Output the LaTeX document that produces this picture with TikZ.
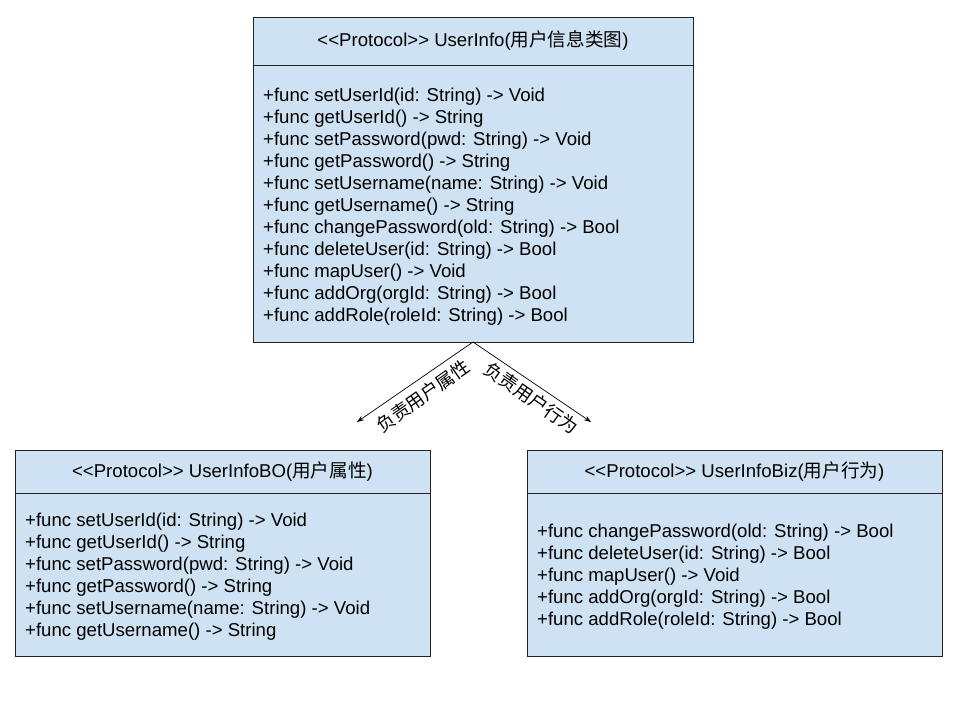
\documentclass[tikz,border=0pt]{standalone}
\usepackage{fontspec}
\setmainfont{Liberation Sans}
\newfontfamily\cjk{Noto Sans CJK SC}
\usetikzlibrary{arrows.meta}
\definecolor{boxfill}{HTML}{CFE2F3}
\definecolor{boxline}{HTML}{222222}
\begin{document}
\begin{tikzpicture}[x=1pt,y=-1pt,
  classbox/.style={draw=boxline,fill=boxfill,line width=0.8pt},
  divider/.style={draw=boxline,line width=0.8pt},
  member/.style={anchor=base west,inner sep=0pt,font=\fontsize{18.6}{22}\selectfont},
  title/.style={inner sep=0pt,font=\fontsize{18.6}{22}\selectfont},
  conn/.style={draw=black,line width=0.7pt,-{Stealth[length=7pt,width=5pt]}},
  lbl/.style={inner sep=0pt,font=\fontsize{18.3}{20}\selectfont\cjk}]
\useasboundingbox (0,0) rectangle (960,711);
\fill[white] (0,0) rectangle (960,711);
% top box
\draw[classbox] (253,17) rectangle (693,342);
\draw[divider] (253,65) -- (693,65);
\node[title] (ttop) at (473,41) {<{}<Protocol>{}> UserInfo({\cjk 用户信息类图})};
\foreach \t [count=\i] in {
  {+func setUserId(id: String) -> Void},
  {+func getUserId() -> String},
  {+func setPassword(pwd: String) -> Void},
  {+func getPassword() -> String},
  {+func setUsername(name: String) -> Void},
  {+func getUsername() -> String},
  {+func changePassword(old: String) -> Bool},
  {+func deleteUser(id: String) -> Bool},
  {+func mapUser() -> Void},
  {+func addOrg(orgId: String) -> Bool},
  {+func addRole(roleId: String) -> Bool}}
  \node[member] (top\i) at (263,{101.5+22*(\i-1)}) {\t};
% left box
\draw[classbox] (15,450) rectangle (430,656);
\draw[divider] (15,493) -- (430,493);
\node[title] (tleft) at (222.5,471.5) {<{}<Protocol>{}> UserInfoBO({\cjk 用户属性})};
\foreach \t [count=\i] in {
  {+func setUserId(id: String) -> Void},
  {+func getUserId() -> String},
  {+func setPassword(pwd: String) -> Void},
  {+func getPassword() -> String},
  {+func setUsername(name: String) -> Void},
  {+func getUsername() -> String}}
  \node[member] (left\i) at (25,{526.5+22*(\i-1)}) {\t};
% right box
\draw[classbox] (527,450) rectangle (942,656);
\draw[divider] (527,493) -- (942,493);
\node[title] (tright) at (734.5,471.5) {<{}<Protocol>{}> UserInfoBiz({\cjk 用户行为})};
\foreach \t [count=\i] in {
  {+func changePassword(old: String) -> Bool},
  {+func deleteUser(id: String) -> Bool},
  {+func mapUser() -> Void},
  {+func addOrg(orgId: String) -> Bool},
  {+func addRole(roleId: String) -> Bool}}
  \node[member] (right\i) at (537,{537.5+22*(\i-1)}) {\t};
% connectors
\coordinate (src) at (473,342);
\coordinate (endL) at (357,422);
\coordinate (endR) at (591,422);
\draw[conn] (src) -- (endL);
\draw[conn] (src) -- (endR);
\node[lbl,rotate=35] (labL) at (423,396) {负责用户属性};
\node[lbl,rotate=-35] (labR) at (531,398) {负责用户行为};
\end{tikzpicture}
\end{document}
